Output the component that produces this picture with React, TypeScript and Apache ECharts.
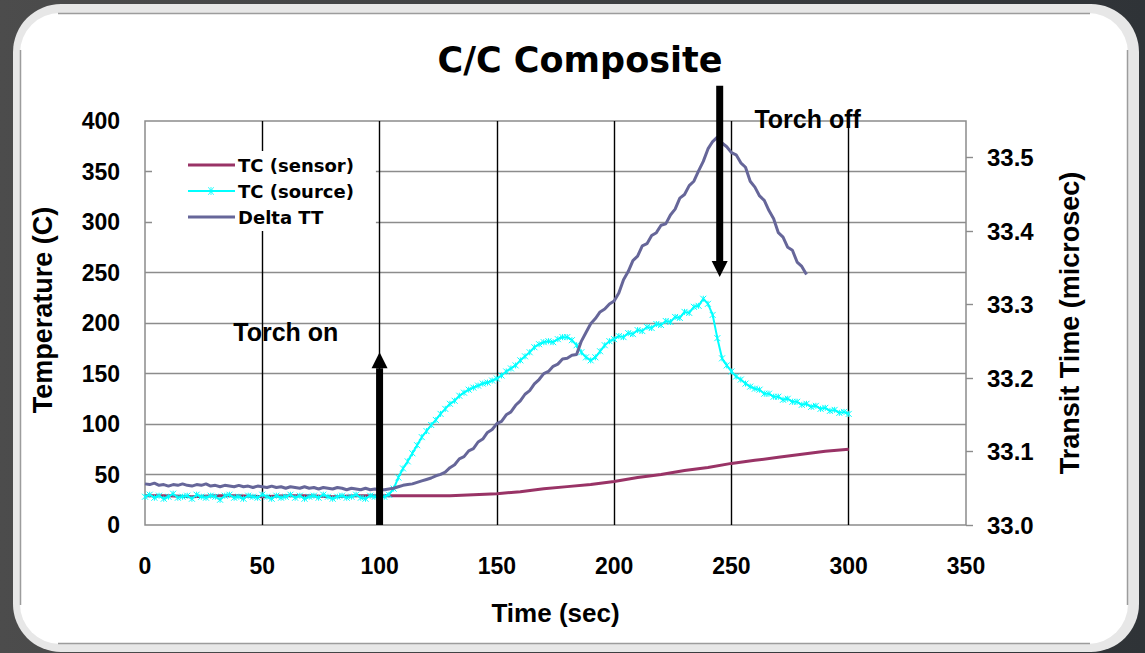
import React, { useEffect, useRef } from "react";
import * as echarts from "echarts";

// Thermocouple on the sensor side, logged every 10 s (°C)
const sensorTime = [0, 10, 20, 30, 40, 50, 60, 70, 80, 90, 100, 110, 120, 130, 140, 150, 160, 170, 180, 190, 200, 210, 220, 230, 240, 250, 260, 270, 280, 290, 300];
const sensorTemp = [29, 29, 28, 29, 29, 28, 29, 29, 28, 29, 29, 29, 29, 29, 30, 31, 33, 36, 38, 40, 43, 47, 50, 54, 57, 61, 64, 67, 70, 73, 75];

// Thermocouple on the torch side, logged every 2 s from t = 0 (°C)
const SAMPLE_STEP = 2;
const sourceTemp = [
  28, 30, 27, 29, 26, 28, 31, 27, 28, 29,
  26, 30, 28, 27, 29, 28, 25, 29, 30, 27,
  28, 26, 29, 28, 27, 30, 28, 26, 29, 27,
  28, 30, 27, 29, 26, 28, 29, 27, 30, 28,
  26, 28, 29, 27, 28, 30, 27, 26, 29, 28,
  27, 28, 30, 36, 47, 56, 63, 71, 79, 87,
  93, 99, 104, 110, 115, 120, 123, 128, 131, 134,
  136, 138, 140, 141, 143, 145, 148, 152, 155, 158,
  163, 167, 171, 176, 179, 181, 182, 181, 184, 186,
  186, 183, 178, 171, 166, 163, 166, 172, 178, 182,
  184, 187, 186, 190, 189, 193, 192, 196, 195, 199,
  198, 202, 201, 206, 205, 211, 210, 216, 217, 224,
  219, 208, 185, 165, 158, 152, 147, 144, 140, 137,
  135, 134, 130, 130, 127, 127, 124, 125, 122, 122,
  119, 120, 117, 118, 115, 116, 113, 114, 111, 112,
  110,
];

// Ultrasonic transit time through the part, logged every 2 s (microsec)
const deltaTT = [
  33.056, 33.055, 33.057, 33.054, 33.055, 33.053, 33.055, 33.054, 33.056, 33.054,
  33.053, 33.055, 33.054, 33.056, 33.053, 33.054, 33.052, 33.054, 33.053, 33.052,
  33.054, 33.052, 33.053, 33.051, 33.053, 33.052, 33.051, 33.053, 33.051, 33.052,
  33.050, 33.052, 33.051, 33.050, 33.052, 33.050, 33.051, 33.049, 33.051, 33.050,
  33.049, 33.051, 33.050, 33.048, 33.050, 33.049, 33.048, 33.050, 33.048, 33.049,
  33.048, 33.048, 33.049, 33.050, 33.052, 33.054, 33.055, 33.056, 33.058, 33.060,
  33.062, 33.064, 33.067, 33.069, 33.072, 33.078, 33.082, 33.090, 33.093, 33.101,
  33.104, 33.113, 33.117, 33.126, 33.130, 33.138, 33.141, 33.150, 33.154, 33.163,
  33.169, 33.178, 33.183, 33.192, 33.198, 33.206, 33.209, 33.216, 33.219, 33.226,
  33.227, 33.231, 33.232, 33.250, 33.262, 33.274, 33.281, 33.290, 33.294, 33.301,
  33.305, 33.316, 33.334, 33.345, 33.360, 33.366, 33.380, 33.383, 33.394, 33.398,
  33.408, 33.410, 33.422, 33.430, 33.445, 33.450, 33.462, 33.468, 33.482, 33.495,
  33.512, 33.522, 33.528, 33.520, 33.515, 33.507, 33.504, 33.493, 33.487, 33.468,
  33.460, 33.448, 33.442, 33.428, 33.417, 33.398, 33.392, 33.378, 33.374, 33.358,
  33.352, 33.341,
];

const seriesNames = ["TC (sensor)", "TC (source)", "Delta TT"];
const transitTicks = [33.0, 33.1, 33.2, 33.3, 33.4, 33.5];

// Torch events: [time, arrow tail (°C), arrow tip (°C)]
const torchArrows = [
  [100, 0, 171],
  [245, 435, 245.5],
];
// Event captions: [time, °C]
const noteText = ["Torch on", "Torch off"];
const notePos = [
  [60, 191],
  [282.5, 402],
];

const ARIAL = '"Liberation Sans", Arial, Helvetica, sans-serif';
const DEJAVU = '"DejaVu Sans", Verdana, sans-serif';

const STAR = "path://M0,0L10,10M10,0L0,10M5,0L5,10";
// Legend keys: a plain stroke, and a stroke carrying a small star marker
const KEY_LINE = "path://M0,0H47V3H0Z";
const KEY_STAR =
  "path://M0,4H47V6H0Z M22.6,1H23.4V9H22.6Z M20,1.3L20.6,1L26,8.7L25.4,9Z M25.4,1L26,1.3L20.6,9L20,8.7Z M0,0H0.01V10H0Z";

function renderArrow(params: any, api: any) {
  const t = api.value(0);
  const from = api.coord([t, api.value(1)]);
  const to = api.coord([t, api.value(2)]);
  const dir = to[1] < from[1] ? -1 : 1;
  const headLen = 16;
  const halfHead = 8;
  const shaft = 7;
  const baseY = to[1] - dir * headLen;
  return {
    type: "group",
    children: [
      {
        type: "rect",
        shape: {
          x: from[0] - shaft / 2,
          y: Math.min(from[1], baseY),
          width: shaft,
          height: Math.abs(baseY - from[1]),
        },
        style: { fill: "#000" },
      },
      {
        type: "polygon",
        shape: {
          points: [
            [to[0], to[1]],
            [to[0] - halfHead, baseY],
            [to[0] + halfHead, baseY],
          ],
        },
        style: { fill: "#000" },
      },
    ],
  };
}

function renderNote(params: any, api: any) {
  const p = api.coord([api.value(0), api.value(1)]);
  return {
    type: "text",
    x: p[0],
    y: p[1],
    style: {
      text: noteText[params.dataIndex],
      fill: "#000",
      font: `bold 25px ${ARIAL}`,
      align: "center",
      verticalAlign: "middle",
    },
  };
}

export default function App() {
  const ref = useRef<HTMLDivElement>(null);

  useEffect(() => {
    document.body.style.margin = "0";
    document.body.style.overflow = "hidden";
    if (!ref.current) return;
    const chart = echarts.init(ref.current, undefined, { renderer: "svg" });

    const sensorData = sensorTime.map((t, i) => [t, sensorTemp[i]]);
    const sourceData = sourceTemp.map((v, i) => [i * SAMPLE_STEP, v]);
    const deltaData = deltaTT.map((v, i) => [i * SAMPLE_STEP, v]);

    const tickFont = { color: "#000", fontFamily: ARIAL, fontWeight: "bold" as const, fontSize: 23 };
    const nameFont = { color: "#000", fontFamily: ARIAL, fontWeight: "bold" as const, fontSize: 26 };

    chart.setOption({
      animation: false,
      graphic: [
        {
          type: "rect",
          z: -30,
          silent: true,
          shape: { x: 0, y: 0, width: 1145, height: 653 },
          style: {
            fill: new echarts.graphic.LinearGradient(0, 0, 1, 0, [
              { offset: 0, color: "#4c4c4c" },
              { offset: 1, color: "#2f3337" },
            ]),
          },
        },
        {
          type: "rect",
          z: -29,
          silent: true,
          shape: { x: 13, y: 4, width: 1126, height: 648, r: 48 },
          style: { fill: "#e7e7e7" },
        },
        {
          type: "rect",
          z: -28,
          silent: true,
          shape: { x: 20, y: 13, width: 1108, height: 631, r: 40 },
          style: { fill: "#ffffff" },
        },
        { type: "line", z: -27, silent: true, shape: { x1: 20.5, y1: 50, x2: 20.5, y2: 605 }, style: { stroke: "#9c9c9c", lineWidth: 1.5 } },
        { type: "line", z: -27, silent: true, shape: { x1: 1127.5, y1: 50, x2: 1127.5, y2: 605 }, style: { stroke: "#9c9c9c", lineWidth: 1.5 } },
        { type: "line", z: -27, silent: true, shape: { x1: 58, y1: 13.5, x2: 1090, y2: 13.5 }, style: { stroke: "#9c9c9c", lineWidth: 1.5 } },
        { type: "line", z: -27, silent: true, shape: { x1: 58, y1: 643.5, x2: 1090, y2: 643.5 }, style: { stroke: "#9c9c9c", lineWidth: 1.5 } },
      ],
      title: {
        text: "C/C Composite",
        left: 575,
        top: 37,
        textAlign: "center",
        textStyle: { color: "#000", fontFamily: DEJAVU, fontWeight: "bold", fontSize: 35 },
      },
      legend: {
        orient: "vertical",
        left: 152,
        top: 151,
        padding: [5, 22, 5, 36],
        backgroundColor: "#ffffff",
        itemWidth: 47,
        itemHeight: 14,
        itemGap: 8,
        data: [
          { name: seriesNames[0], icon: KEY_LINE },
          { name: seriesNames[1], icon: KEY_STAR, itemStyle: { borderWidth: 0 } },
          { name: seriesNames[2], icon: KEY_LINE },
        ],
        textStyle: { color: "#000", fontFamily: DEJAVU, fontWeight: "bold", fontSize: 18, padding: [0, 0, 0, -2] },
      },
      grid: {
        left: 145,
        right: 179,
        top: 121,
        bottom: 128,
        show: true,
        backgroundColor: "transparent",
        borderColor: "#8c8c8c",
        borderWidth: 1.5,
      },
      xAxis: {
        type: "value",
        min: 0,
        max: 350,
        interval: 50,
        axisLine: { show: false },
        axisTick: { show: false },
        axisLabel: { ...tickFont, margin: 29 },
        splitLine: { show: true, showMinLine: false, showMaxLine: false, lineStyle: { color: "#000", width: 1.4 } },
        name: "Time (sec)",
        nameLocation: "middle",
        nameGap: 75,
        nameTextStyle: nameFont,
      },
      yAxis: [
        {
          type: "value",
          position: "left",
          min: 0,
          max: 400,
          interval: 50,
          axisLine: { show: false },
          axisTick: { show: false },
          axisLabel: { ...tickFont, margin: 25 },
          splitLine: { show: true, showMinLine: false, showMaxLine: false, lineStyle: { color: "#8c8c8c", width: 1.4 } },
          name: "Temperature (C)",
          nameLocation: "middle",
          nameRotate: 90,
          nameGap: 89,
          nameTextStyle: { ...nameFont, fontSize: 27, padding: [0, 0, 0, 26] },
        },
        {
          type: "value",
          position: "right",
          min: 33.0,
          max: 33.55,
          interval: 0.1,
          axisLine: { show: false },
          axisTick: { show: true, length: 7, customValues: transitTicks, lineStyle: { color: "#8c8c8c", width: 1.4 } },
          axisLabel: {
            ...tickFont,
            fontSize: 24,
            margin: 21,
            customValues: transitTicks,
            formatter: (v: number) => v.toFixed(1),
          },
          splitLine: { show: false },
          name: "Transit Time (microsec)",
          nameLocation: "middle",
          nameRotate: 90,
          nameGap: 90,
          nameTextStyle: { ...nameFont, fontSize: 27 },
        },
      ],
      series: [
        {
          name: seriesNames[0],
          type: "line",
          yAxisIndex: 0,
          data: sensorData,
          symbol: "none",
          lineStyle: { color: "#993366", width: 3 },
          itemStyle: { color: "#993366" },
          z: 3,
        },
        {
          name: seriesNames[1],
          type: "line",
          yAxisIndex: 0,
          data: sourceData,
          symbol: STAR,
          symbolSize: 6,
          showSymbol: true,
          lineStyle: { color: "#00ffff", width: 2 },
          itemStyle: { color: "#00ffff", borderColor: "#00ffff", borderWidth: 1 },
          z: 4,
        },
        {
          name: seriesNames[2],
          type: "line",
          yAxisIndex: 1,
          data: deltaData,
          symbol: "none",
          lineStyle: { color: "#666699", width: 3 },
          itemStyle: { color: "#666699" },
          z: 5,
        },
        {
          name: "torch",
          type: "custom",
          yAxisIndex: 0,
          data: torchArrows,
          encode: { x: 0, y: [1, 2] },
          renderItem: renderArrow,
          clip: false,
          silent: true,
          z: 8,
        },
        {
          name: "notes",
          type: "custom",
          yAxisIndex: 0,
          data: notePos,
          encode: { x: 0, y: 1 },
          renderItem: renderNote,
          clip: false,
          silent: true,
          z: 9,
        },
      ],
    });

    return () => chart.dispose();
  }, []);

  return <div ref={ref} style={{ width: 1145, height: 653 }} />;
}
